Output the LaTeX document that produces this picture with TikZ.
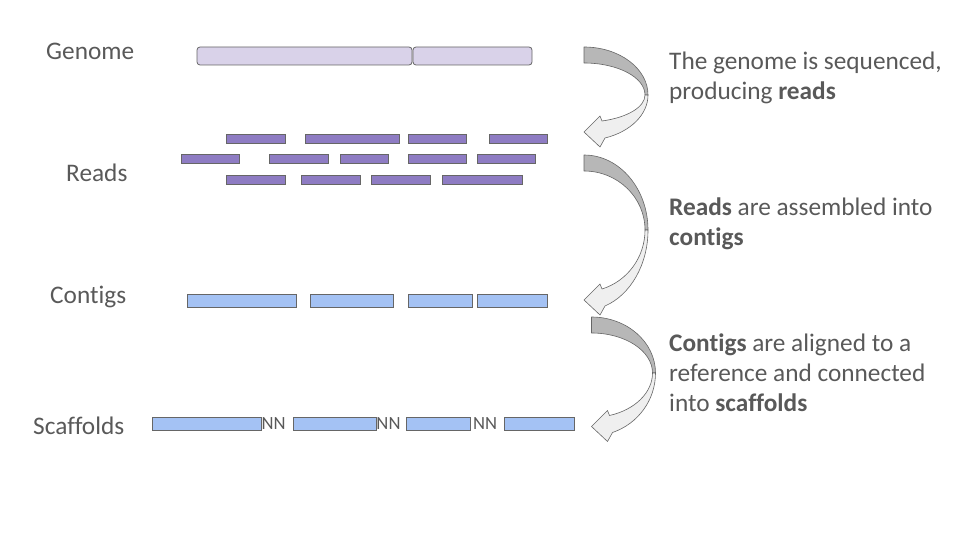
\documentclass[tikz,border=0pt]{standalone}
\usepackage{fontspec}
\setmainfont{Carlito}[Ligatures=NoCommon]
\usepackage{tikz}
\usetikzlibrary{positioning}
\definecolor{TxtGrey}{HTML}{595959}
\definecolor{EdgeGrey}{HTML}{666666}
\definecolor{GenomeLilac}{HTML}{D9D2E9}
\definecolor{ReadPurple}{HTML}{8E7CC3}
\definecolor{ContigBlue}{HTML}{A4C2F4}
\definecolor{ArrowDark}{HTML}{B7B7B7}
\definecolor{ArrowLight}{HTML}{EFEFEF}

\begin{document}
\begin{tikzpicture}[
    x=1pt, y=-1pt,
    lbl/.style={font=\fontsize{25.3}{30}\selectfont, text=TxtGrey, inner sep=0pt, anchor=base west},
    note/.style={lbl, align=left},
    gapmark/.style={font=\fontsize{18.6}{20}\selectfont, text=TxtGrey, inner sep=0pt},
    genomebar/.style={draw=EdgeGrey, fill=GenomeLilac, rounded corners=3pt, line width=0.8pt},
    readbar/.style={draw=EdgeGrey, fill=ReadPurple, line width=0.8pt},
    contigbar/.style={draw=EdgeGrey, fill=ContigBlue, line width=0.8pt},
    bendback/.style={draw=EdgeGrey, fill=ArrowDark, line width=0.6pt, line join=round},
    bendfront/.style={draw=EdgeGrey, fill=ArrowLight, line width=0.6pt, line join=round},
]
\useasboundingbox (0,0) rectangle (960,540);

% --- Row labels (left column) ---
\node[lbl] at (46,60)    (genomelbl)   {Genome};
\node[lbl] at (66,181.5) (readslbl)    {Reads};
\node[lbl] at (50,303)   (contigslbl)  {Contigs};
\node[lbl] at (33,434)   (scaffoldlbl) {Scaffolds};

% --- Genome ---
\draw[genomebar] (197,47) rectangle (412,65);
\draw[genomebar] (413,47) rectangle (532,65);

% --- Reads (three staggered rows) ---
\foreach \xa/\xb/\ya in {226/285/134, 305/399/134, 408/466/134, 489/547/134,
                         181/239/154, 269/328/154, 340/388/154, 408/466/154, 477/535/154,
                         226/285/175, 301/360/175, 371/430/175, 442/522/175}
  \draw[readbar] (\xa,\ya) rectangle (\xb,\ya+9);

% --- Contigs ---
\foreach \xa/\xb in {187/296, 310/393, 408/472, 477/547}
  \draw[contigbar] (\xa,294) rectangle (\xb,307);

% --- Scaffolds, gaps filled with NN ---
\foreach \xa/\xb in {152/261, 293/376, 406/470, 504/574}
  \draw[contigbar] (\xa,417) rectangle (\xb,430);
\node[gapmark] at (273.7,423.5) (gapa) {NN};
\node[gapmark] at (388.5,423.5) (gapb) {NN};
\node[gapmark] at (485,423.5)   (gapc) {NN};

% --- Curved step arrows (back band dark, front band light) ---
\foreach \ax/\ay/\c/\T in {584/47/48/85, 584/155/75/145, 591.5/317/56/109.5} {
  \pgfmathsetmacro\aL{acos(21/64)}
  \pgfmathsetmacro\aU{acos(18/61)}
  \pgfmathsetmacro\rL{(\T+6-\c)/sin(\aL)}
  \pgfmathsetmacro\rU{(\T-11-\c)/sin(\aU)}
  \begin{scope}[shift={(\ax,\ay)}]
    \draw[bendback] (0,0) arc[start angle=-90, end angle=0, x radius=64, y radius=\c]
      -- (61,\c) arc[start angle=0, end angle=-90, x radius=61, y radius=\c-16] -- cycle;
    \draw[bendfront] (18,\T-11) -- (16,\T-16) -- (0,\T) -- (16,\T+15) -- (21,\T+6)
      arc[start angle=\aL, end angle=0, x radius=64, y radius=\rL]
      -- (61,\c) arc[start angle=0, end angle=\aU, x radius=61, y radius=\rU] -- cycle;
  \end{scope}
}

% --- Step descriptions (right column, anchored on last line) ---
\node[note] at (669,100) (seqnote)  {The genome is sequenced,\\producing \textbf{reads}};
\node[note] at (669,245) (asmnote)  {\textbf{Reads} are assembled into\\\textbf{contigs}};
\node[note] at (669,411) (scafnote) {\textbf{Contigs} are aligned to a\\reference and connected\\into \textbf{scaffolds}};

\end{tikzpicture}
\end{document}
